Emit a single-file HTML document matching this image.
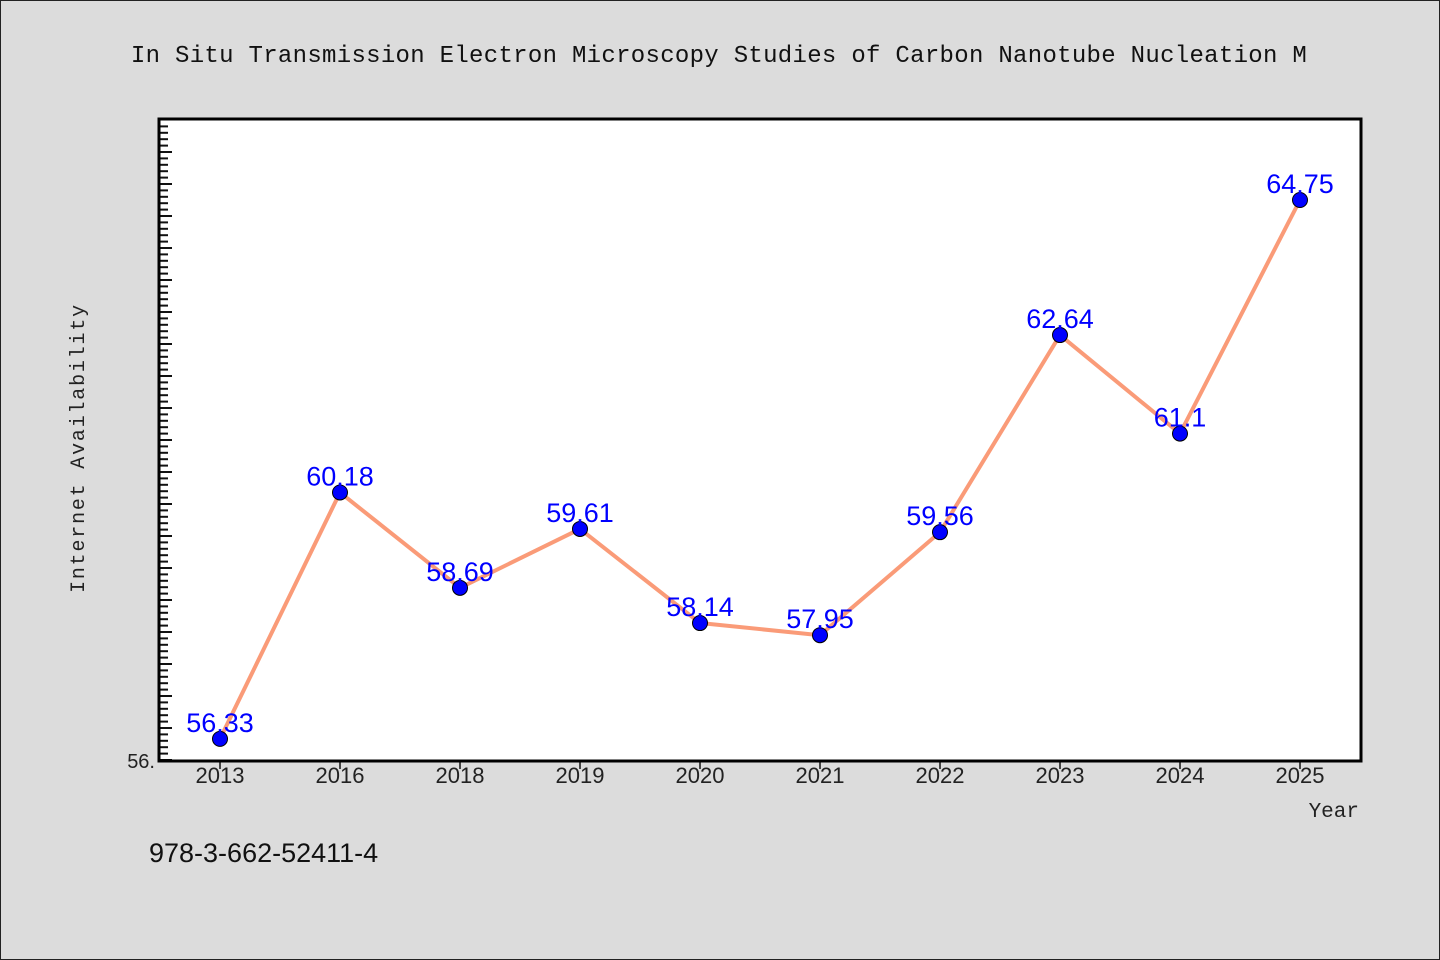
<!DOCTYPE html>
<html><head><meta charset="utf-8"><style>
body{margin:0;background:#dcdcdc;}
svg{display:block}
</style></head><body>
<svg width="1440" height="960" xmlns="http://www.w3.org/2000/svg">
<rect x="0.5" y="0.5" width="1439" height="959" fill="#dcdcdc" stroke="#222"/>
<text x="719" y="62" text-anchor="middle" font-family="'Liberation Mono', monospace" font-size="24" letter-spacing="0.3" fill="#111">In Situ Transmission Electron Microscopy Studies of Carbon Nanotube Nucleation M</text>
<rect x="159" y="119" width="1202" height="642" fill="#fff"/>
<g id="ticks"></g>
<g id="xticks"></g>
<g id="series"></g>
<rect x="159" y="119" width="1202" height="642" fill="none" stroke="#000" stroke-width="3"/>
<text x="155" y="768" text-anchor="end" font-family="'Liberation Sans', sans-serif" font-size="20" fill="#222">56.</text>
<text transform="translate(84,448) rotate(-90)" text-anchor="middle" font-family="'Liberation Mono', monospace" font-size="20" letter-spacing="1.8" fill="#222">Internet Availability</text>
<text x="1359" y="817" text-anchor="end" font-family="'Liberation Mono', monospace" font-size="21" fill="#222">Year</text>
<text x="149" y="862" font-family="'Liberation Sans', sans-serif" font-size="27" fill="#111">978-3-662-52411-4</text>
</svg>
<script>
const categories=["2013","2016","2018","2019","2020","2021","2022","2023","2024","2025"];
const values=[56.33,60.18,58.69,59.61,58.14,57.95,59.56,62.64,61.1,64.75];
const labels=["56.33","60.18","58.69","59.61","58.14","57.95","59.56","62.64","61.1","64.75"];
const yMin=56,yMax=66;
const NS="http://www.w3.org/2000/svg";
const L=159,R=1361,T=120,B=760;
function xs(i){return L+61+i*120;}
function ys(v){return B-(v-yMin)/(yMax-yMin)*(B-T);}
function mk(t,a,p){const e=document.createElementNS(NS,t);for(const k in a)e.setAttribute(k,a[k]);p.appendChild(e);return e;}
const tg=document.getElementById('ticks');
for(let k=0;k<=100;k++){const v=yMin+k*0.1;const y=ys(v);if(y<T+2)continue;
 const major=k%5===0;
 const ln=mk('line',{x1:L,x2:L+(major?13:9),y1:y,y2:y,stroke:'#111','stroke-width':2},tg);
 
 }
const xg=document.getElementById('xticks');
categories.forEach((c,i)=>{
 const ln=mk('line',{x1:xs(i),x2:xs(i),y1:B+2,y2:B+9,stroke:'#111','stroke-width':1.5},xg);
 
 
 const t=mk('text',{x:xs(i),y:783,'text-anchor':'middle','font-family':"'Liberation Sans', sans-serif",'font-size':22,fill:'#222'},xg);
 t.textContent=c;
 
 
});
const sg=document.getElementById('series');
const pts=values.map((v,i)=>xs(i)+','+ys(v)).join(' ');
const pl=mk('polyline',{points:pts,fill:'none',stroke:'#fa9b78','stroke-width':4,'stroke-linejoin':'round'},sg);


values.forEach((v,i)=>{
 const c=mk('circle',{cx:xs(i),cy:ys(v),r:7.5,fill:'#0000ff',stroke:'#000','stroke-width':1},sg);
 
 
 const t=mk('text',{x:xs(i),y:ys(v)-7,'text-anchor':'middle','font-family':"'Liberation Sans', sans-serif",'font-size':27,fill:'#0000ff'},sg);
 t.textContent=labels[i];
 
 
});
</script>
</body></html>
